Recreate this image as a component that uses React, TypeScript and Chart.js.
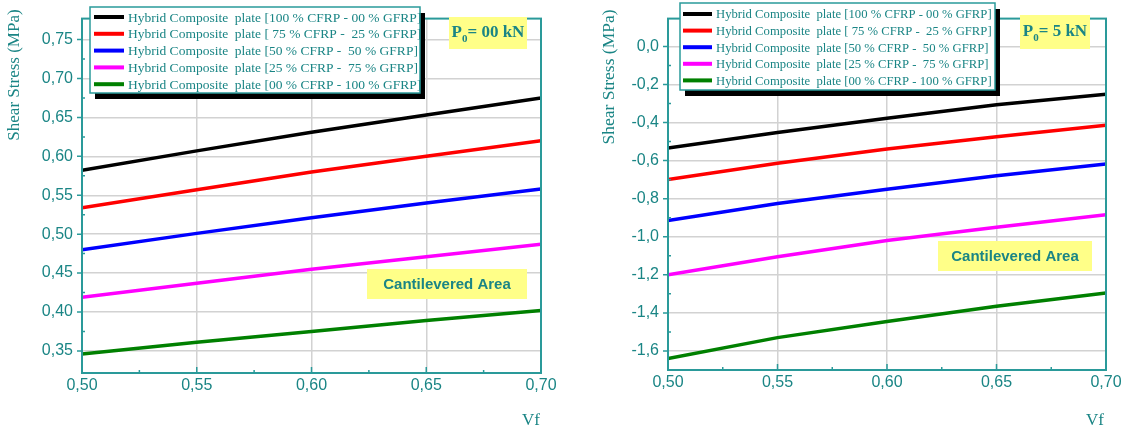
import React, { useEffect, useRef } from "react";
import { Chart, registerables } from "chart.js";

Chart.register(...registerables);

// ---------- data ----------
const vf = [0.5, 0.55, 0.6, 0.65, 0.7];
const xTicks = [0.5, 0.55, 0.6, 0.65, 0.7];

const seriesLabels = [
  "Hybrid Composite  plate [100 % CFRP - 00 % GFRP]",
  "Hybrid Composite  plate [ 75 % CFRP -  25 % GFRP]",
  "Hybrid Composite  plate [50 % CFRP -  50 % GFRP]",
  "Hybrid Composite  plate [25 % CFRP -  75 % GFRP]",
  "Hybrid Composite  plate [00 % CFRP - 100 % GFRP]",
];
const seriesColors = ["#000000", "#ff0000", "#0000ff", "#ff00ff", "#008000"];

// P0 = 00 kN
const p00_cfrp100 = [0.582, 0.607, 0.631, 0.653, 0.675];
const p00_cfrp75 = [0.534, 0.557, 0.58, 0.6, 0.62];
const p00_cfrp50 = [0.48, 0.501, 0.521, 0.54, 0.558];
const p00_cfrp25 = [0.419, 0.437, 0.455, 0.471, 0.487];
const p00_cfrp00 = [0.346, 0.361, 0.375, 0.389, 0.402];
const leftYTicks = [0.35, 0.4, 0.45, 0.5, 0.55, 0.6, 0.65, 0.7, 0.75];

// P0 = 5 kN
const p5_cfrp100 = [-0.534, -0.452, -0.377, -0.307, -0.251];
const p5_cfrp75 = [-0.7, -0.614, -0.539, -0.475, -0.414];
const p5_cfrp50 = [-0.915, -0.825, -0.75, -0.68, -0.618];
const p5_cfrp25 = [-1.2, -1.105, -1.02, -0.95, -0.885];
const p5_cfrp00 = [-1.64, -1.53, -1.445, -1.365, -1.295];
const rightYTicks = [-1.6, -1.4, -1.2, -1.0, -0.8, -0.6, -0.4, -0.2, 0.0];

const TEAL = "#1a8585";
const FRAME = "#2a9a9a";
const YELLOW = "#ffff88";

type PanelCfg = {
  width: number;
  plot: { left: number; right: number; top: number; bottom: number };
  yMin: number;
  yMax: number;
  yTicks: number[];
  yDecimals: number;
  series: number[][];
  titleX: number;
  titleY: number;
  titleFont: number;
  vfX: number;
  legend: { x: number; y: number; w: number; h: number; row0: number; gap: number; s0: number; s1: number; tx: number; font: number };
  p0: { x: number; y: number; w: number; h: number; text: string };
  cant: { x: number; y: number; w: number; h: number };
};

const fmt = (v: number, d: number) => v.toFixed(d).replace(".", ",");

function makeOverlay(cfg: PanelCfg) {
  return {
    id: "overlay",
    afterDatasetsDraw(chart: any) {
      const ctx: CanvasRenderingContext2D = chart.ctx;
      const { left, right, top, bottom } = chart.chartArea;
      const xs = chart.scales.x;
      const ys = chart.scales.y;
      ctx.save();
      // frame
      ctx.strokeStyle = FRAME;
      ctx.lineWidth = 2;
      ctx.strokeRect(left, top, right - left, bottom - top);
      // x ticks (inward)
      ctx.lineWidth = 1.5;
      ctx.beginPath();
      for (let i = 0; i < xTicks.length; i++) {
        const px = xs.getPixelForValue(xTicks[i]);
        ctx.moveTo(px, bottom);
        ctx.lineTo(px, bottom - 6);
        if (i < xTicks.length - 1) {
          const mx = xs.getPixelForValue((xTicks[i] + xTicks[i + 1]) / 2);
          ctx.moveTo(mx, bottom);
          ctx.lineTo(mx, bottom - 3);
        }
      }
      // y ticks (outward major, inward minor)
      for (let i = 0; i < cfg.yTicks.length; i++) {
        const py = ys.getPixelForValue(cfg.yTicks[i]);
        ctx.moveTo(left, py);
        ctx.lineTo(left - 5, py);
        if (i < cfg.yTicks.length - 1) {
          const my = ys.getPixelForValue((cfg.yTicks[i] + cfg.yTicks[i + 1]) / 2);
          ctx.moveTo(left, my);
          ctx.lineTo(left + 3, my);
        }
      }
      ctx.stroke();

      // y title
      ctx.fillStyle = TEAL;
      ctx.font = `${cfg.titleFont}px 'Liberation Serif', serif`;
      ctx.textAlign = "center";
      ctx.textBaseline = "middle";
      ctx.save();
      ctx.translate(cfg.titleX, cfg.titleY);
      ctx.rotate(-Math.PI / 2);
      ctx.fillText("Shear Stress (MPa)", 0, 0);
      ctx.restore();

      // Vf
      ctx.font = "17px 'Liberation Serif', serif";
      ctx.fillText("Vf", cfg.vfX, 421);

      // legend
      const L = cfg.legend;
      ctx.fillStyle = "#000";
      ctx.fillRect(L.x + 5, L.y + 6, L.w, L.h);
      ctx.fillStyle = "#fff";
      ctx.fillRect(L.x, L.y, L.w, L.h);
      ctx.strokeStyle = FRAME;
      ctx.lineWidth = 1.5;
      ctx.strokeRect(L.x, L.y, L.w, L.h);
      ctx.textAlign = "left";
      ctx.font = `${L.font}px 'Liberation Serif', serif`;
      for (let i = 0; i < seriesLabels.length; i++) {
        const ry = L.row0 + i * L.gap;
        ctx.strokeStyle = seriesColors[i];
        ctx.lineWidth = 4;
        ctx.beginPath();
        ctx.moveTo(L.s0, ry);
        ctx.lineTo(L.s1, ry);
        ctx.stroke();
        ctx.fillStyle = TEAL;
        ctx.fillText(seriesLabels[i], L.tx, ry + 1);
      }

      // P0 box
      const P = cfg.p0;
      ctx.fillStyle = YELLOW;
      ctx.fillRect(P.x, P.y, P.w, P.h);
      ctx.fillStyle = TEAL;
      ctx.font = "bold 17px 'Liberation Serif', serif";
      const cy = P.y + P.h / 2;
      const wP = ctx.measureText("P").width;
      ctx.font = "bold 11px 'Liberation Serif', serif";
      const w0 = ctx.measureText("0").width;
      ctx.font = "bold 17px 'Liberation Serif', serif";
      const wRest = ctx.measureText(P.text).width;
      let sx = P.x + (P.w - (wP + w0 + wRest)) / 2;
      ctx.fillText("P", sx, cy);
      sx += wP;
      ctx.font = "bold 11px 'Liberation Serif', serif";
      ctx.fillText("0", sx, cy + 6);
      sx += w0;
      ctx.font = "bold 17px 'Liberation Serif', serif";
      ctx.fillText(P.text, sx, cy);

      // Cantilevered Area
      const C = cfg.cant;
      ctx.fillStyle = YELLOW;
      ctx.fillRect(C.x, C.y, C.w, C.h);
      ctx.fillStyle = TEAL;
      ctx.font = "bold 15px 'Liberation Sans', Arial, sans-serif";
      ctx.textAlign = "center";
      ctx.fillText("Cantilevered Area", C.x + C.w / 2, C.y + C.h / 2 + 1);
      ctx.restore();
    },
  };
}

function Panel({ cfg }: { cfg: PanelCfg }) {
  const ref = useRef<HTMLCanvasElement | null>(null);
  useEffect(() => {
    if (!ref.current) return;
    const H = 434;
    const chart = new Chart(ref.current, {
      type: "line",
      data: {
        datasets: cfg.series.map((s, i) => ({
          label: seriesLabels[i],
          data: vf.map((x, j) => ({ x, y: s[j] })),
          borderColor: seriesColors[i],
          backgroundColor: seriesColors[i],
          borderWidth: 3.5,
          pointRadius: 0,
          tension: 0,
          fill: false,
        })),
      },
      options: {
        responsive: false,
        animation: false,
        devicePixelRatio: 1,
        layout: {
          padding: { left: 0, top: cfg.plot.top, right: cfg.width - cfg.plot.right, bottom: 0 },
        },
        plugins: { legend: { display: false }, tooltip: { enabled: false }, title: { display: false } },
        scales: {
          x: {
            type: "linear",
            min: 0.5,
            max: 0.7,
            afterBuildTicks: (sc: any) => {
              sc.ticks = xTicks.map((v) => ({ value: v }));
            },
            afterFit: (sc: any) => {
              sc.height = H - cfg.plot.bottom;
            },
            ticks: {
              color: TEAL,
              font: { family: "'Liberation Sans', Arial, sans-serif", size: 16 },
              padding: 3,
              maxRotation: 0,
              autoSkip: false,
              callback: (v: any) => fmt(Number(v), 2),
            },
            grid: { color: "#d2d2d2", lineWidth: 1.5, drawTicks: false },
            border: { display: false },
          },
          y: {
            type: "linear",
            min: cfg.yMin,
            max: cfg.yMax,
            afterBuildTicks: (sc: any) => {
              sc.ticks = cfg.yTicks.map((v) => ({ value: v }));
            },
            afterFit: (sc: any) => {
              sc.width = cfg.plot.left;
            },
            ticks: {
              color: TEAL,
              font: { family: "'Liberation Sans', Arial, sans-serif", size: 16 },
              padding: 9,
              autoSkip: false,
              callback: (v: any) => fmt(Number(v), cfg.yDecimals),
            },
            grid: { color: "#d2d2d2", lineWidth: 1.5, drawTicks: false },
            border: { display: false },
          },
        },
      } as any,
      plugins: [makeOverlay(cfg)],
    });
    return () => chart.destroy();
  }, [cfg]);
  return <canvas ref={ref} width={cfg.width} height={434} style={{ display: "block", width: cfg.width, height: 434 }} />;
}

const leftCfg: PanelCfg = {
  width: 560,
  plot: { left: 82, right: 541, top: 4, bottom: 373 },
  yMin: 0.3216,
  yMax: 0.777,
  yTicks: leftYTicks,
  yDecimals: 2,
  series: [p00_cfrp100, p00_cfrp75, p00_cfrp50, p00_cfrp25, p00_cfrp00],
  titleX: 15,
  titleY: 75,
  titleFont: 17,
  vfX: 531,
  legend: { x: 90, y: 7, w: 330, h: 86, row0: 17, gap: 16.8, s0: 94, s1: 124, tx: 128, font: 13.5 },
  p0: { x: 449, y: 17, w: 78, h: 32, text: "= 00 kN" },
  cant: { x: 367, y: 269, w: 160, h: 30 },
};

const rightCfg: PanelCfg = {
  width: 566,
  plot: { left: 108, right: 546, top: 3, bottom: 370 },
  yMin: -1.7,
  yMax: 0.146,
  yTicks: rightYTicks,
  yDecimals: 1,
  series: [p5_cfrp100, p5_cfrp75, p5_cfrp50, p5_cfrp25, p5_cfrp00],
  titleX: 49,
  titleY: 77,
  titleFont: 17.5,
  vfX: 535,
  legend: { x: 120, y: 3, w: 315, h: 87, row0: 14, gap: 16.6, s0: 123, s1: 152, tx: 156, font: 12.7 },
  p0: { x: 460, y: 15, w: 70, h: 34, text: "= 5 kN" },
  cant: { x: 378, y: 241, w: 154, h: 30 },
};

export default function App() {
  return (
    <div style={{ position: "absolute", left: 0, top: 0, width: 1126, height: 434, background: "#fff" }}>
      <div style={{ position: "absolute", left: 0, top: 0 }}>
        <Panel cfg={leftCfg} />
      </div>
      <div style={{ position: "absolute", left: 560, top: 0 }}>
        <Panel cfg={rightCfg} />
      </div>
    </div>
  );
}
